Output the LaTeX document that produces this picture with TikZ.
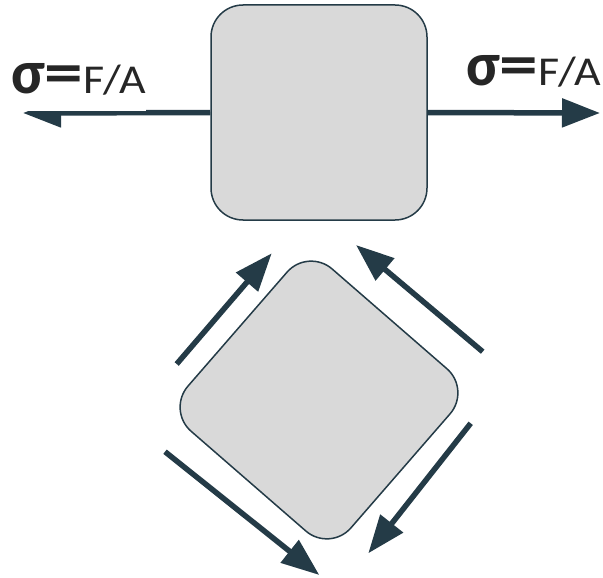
\documentclass[tikz,border=0pt]{standalone}
\usepackage{fontspec}
\setmainfont{Carlito}
\usepackage{graphicx}
\usetikzlibrary{arrows.meta}
\definecolor{slate}{HTML}{243B47}
\definecolor{boxgray}{HTML}{D9D9D9}
\tikzset{
  box/.style={draw=slate, line width=1.5pt, fill=boxgray, rounded corners=32pt,
    minimum width=216pt, minimum height=215pt, inner sep=0pt},
  force/.style={draw=slate, line width=5.5pt,
    -{Triangle[length=38pt,width=28pt]}},
  lbl/.style={anchor=base west, inner sep=0pt, text=black!85},
}
\newcommand{\stresslabel}{{\fontsize{62}{62}\selectfont\bfseries σ\scalebox{1.25}[1]{=}}{\fontsize{41}{41}\selectfont\scalebox{1.12}[1]{F/A}}}
\begin{document}
\begin{tikzpicture}[x=1pt,y=-1pt]
\useasboundingbox (0,0) rectangle (603,578);
% top square
\node[box] (top) at (319,112.5) {};
\coordinate (tipL) at (23,113);
\coordinate (tipR) at (600,113);
\draw[force] (top.west) -- (tipL);
\draw[force] (top.east) -- (tipR);
\node[lbl, fill=white, text depth=17.7pt] (lblL) at (11,93) {\stresslabel};
\node[lbl] (lblR) at (466,85) {\stresslabel};
% rotated square
\node[box, rotate=-41] (bot) at (319,400) {};
\coordinate (a1s) at (176.7,364);   \coordinate (a1e) at (271.7,253.3);
\coordinate (a2s) at (482.7,351.7); \coordinate (a2e) at (356,245);
\coordinate (a3s) at (470.7,423.3); \coordinate (a3e) at (368.3,553.3);
\coordinate (a4s) at (165,451.7);   \coordinate (a4e) at (319.3,575);
\draw[force] (a1s) -- (a1e);
\draw[force] (a2s) -- (a2e);
\draw[force] (a3s) -- (a3e);
\draw[force] (a4s) -- (a4e);
\end{tikzpicture}
\end{document}
